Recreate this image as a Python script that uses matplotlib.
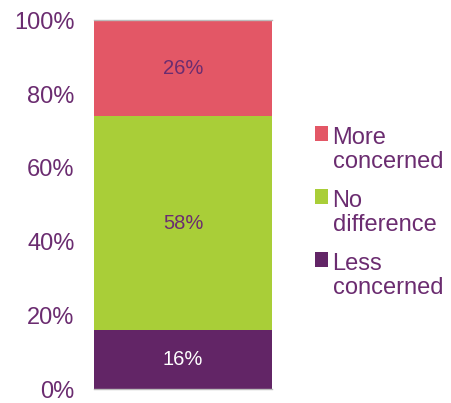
import matplotlib.pyplot as plt
from matplotlib.patches import Rectangle
from matplotlib.legend_handler import HandlerPatch

plt.rcParams['font.family'] = ['Liberation Sans', 'DejaVu Sans']

# share of respondents, stacked bottom to top
categories = ['Less\nconcerned', 'No\ndifference', 'More\nconcerned']
values = [16, 58, 26]
colors = ['#622566', '#A9CE38', '#E35766']
label_colors = ['white', '#6B2C70', '#6B2C70']
text_color = '#6B2C70'
yticks = [0, 20, 40, 60, 80, 100]

fig = plt.figure(figsize=(4.51, 4.03), dpi=100)
ax = fig.add_axes([0.2084, 0.0347, 0.395, 0.915])

bottom = 0
bars = []
for cat, v, c, lc in zip(categories, values, colors, label_colors):
    b = ax.bar(0, v, width=1.0, bottom=bottom, color=c, label=cat)
    ax.text(0, bottom + v / 2, '%d%%' % v, ha='center', va='center',
            fontsize=14.5, color=lc)
    bars.append(b)
    bottom += v

ax.set_xlim(-0.5, 0.5)
ax.set_ylim(0, 100)
ax.set_xticks([])
ax.set_yticks(yticks)
ax.set_yticklabels(['%d%%' % t for t in yticks], fontsize=17, color=text_color)
ax.tick_params(axis='y', length=0, pad=14)
for s in ['left', 'right']:
    ax.spines[s].set_visible(False)
for s in ['top', 'bottom']:
    ax.spines[s].set_color('#BBBBBB')
    ax.spines[s].set_linewidth(1.0)


def square(legend, orig_handle, xdescent, ydescent, width, height, fontsize):
    # put the marker next to the first line of the label
    return Rectangle((-xdescent, -ydescent + height * 1.15), width, height)


handles = [b.patches[0] for b in bars][::-1]
labels = categories[::-1]
leg = fig.legend(handles, labels, loc='center left', bbox_to_anchor=(0.698, 0.472),
                 frameon=False, fontsize=17, handlelength=0.55, handleheight=0.55,
                 handletextpad=0.2, labelspacing=0.72, borderpad=0, borderaxespad=0,
                 handler_map={Rectangle: HandlerPatch(patch_func=square)})
for t in leg.get_texts():
    t.set_color(text_color)
    t.set_linespacing(1.12)

plt.savefig('out.png', dpi=100)
